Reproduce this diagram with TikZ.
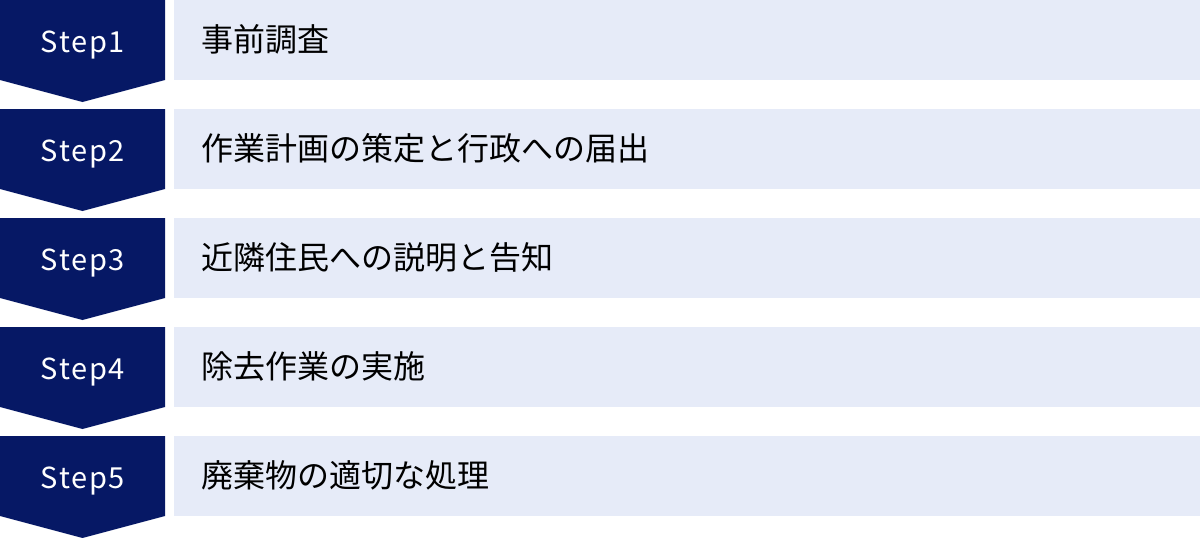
\documentclass[tikz,border=0pt]{standalone}
\usepackage{fontspec}
\setmainfont{Noto Sans CJK JP}
\newfontfamily\stepfont[LetterSpace=6]{Noto Sans CJK JP}
\usepackage{tikz}
\usetikzlibrary{positioning}

\definecolor{navy}{HTML}{061865}
\definecolor{paleblue}{HTML}{E6EBF8}

\tikzset{
    steplabel/.style={text=white, font=\stepfont\fontsize{29}{32}\selectfont, anchor=base, inner sep=0pt},
    taskbox/.style={fill=paleblue, draw=none, minimum width=1026pt, minimum height=80pt, inner sep=0pt},
    tasklabel/.style={text=black, font=\fontsize{32}{36}\selectfont, anchor=base west, inner sep=0pt}
}

\begin{document}
\begin{tikzpicture}[x=1pt,y=-1pt]
\useasboundingbox (0,0) rectangle (1200,538);

\foreach \i/\num/\task in {0/1/事前調査, 1/2/作業計画の策定と行政への届出, 2/3/近隣住民への説明と告知, 3/4/除去作業の実施, 4/5/廃棄物の適切な処理} {
    \pgfmathsetmacro{\top}{109*\i}
    \fill[navy] (0,\top) -- (165,\top) -- (165,\top+80) -- (82.5,\top+102) -- (0,\top+80) -- cycle;
    \node[steplabel] (step\num) at (83,\top+52) {Step\num};
    \node[taskbox, anchor=north west] (box\num) at (174,\top) {};
    \node[tasklabel] (task\num) at (201,\top+51) {\task};
}
\end{tikzpicture}
\end{document}
